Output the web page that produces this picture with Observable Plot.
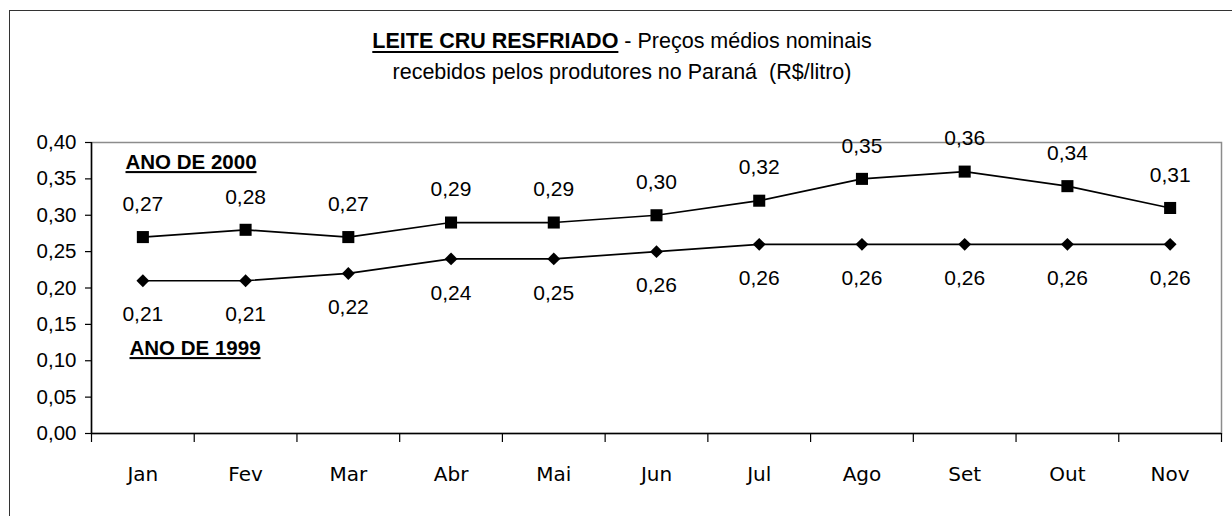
<!DOCTYPE html>
<html>
<head>
<meta charset="utf-8">
<script src="https://cdn.jsdelivr.net/npm/d3@7"></script>
<script src="https://cdn.jsdelivr.net/npm/@observablehq/plot@0.6"></script>
<style>
  html, body { margin: 0; padding: 0; background: #fff; }
  body { width: 1232px; height: 516px; position: relative; overflow: hidden; font-family: "Liberation Sans", Arial, sans-serif; }
  #border { position: absolute; z-index: 10; left: 9px; top: 10px; width: 1260px; height: 560px; border: 1.5px solid #333; box-sizing: border-box; pointer-events: none; }
  #title { position: relative; height: 120px; text-align: center; font-size: 21.5px; color: #000; }
  #title .l1 { position: absolute; left: 0; width: 1244px; top: 29px; }
  #title .l2 { position: absolute; left: 0; width: 1244px; top: 60px; }
  #title u { font-weight: bold; text-decoration-thickness: 2px; text-underline-offset: 3px; }
  #chart { position: relative; }
</style>
</head>
<body>
<div id="border"></div>
<div id="title">
  <div class="l1"><u>LEITE CRU RESFRIADO</u> - Preços médios nominais</div>
  <div class="l2">recebidos pelos produtores no Paraná&nbsp; (R$/litro)</div>
</div>
<div id="chart"></div>
<script>
const months = ["Jan", "Fev", "Mar", "Abr", "Mai", "Jun", "Jul", "Ago", "Set", "Out", "Nov"];
const values2000 = [0.27, 0.28, 0.27, 0.29, 0.29, 0.30, 0.32, 0.35, 0.36, 0.34, 0.31];
const labels2000 = ["0,27", "0,28", "0,27", "0,29", "0,29", "0,30", "0,32", "0,35", "0,36", "0,34", "0,31"];
const values1999 = [0.21, 0.21, 0.22, 0.24, 0.24, 0.25, 0.26, 0.26, 0.26, 0.26, 0.26];
const labels1999 = ["0,21", "0,21", "0,22", "0,24", "0,25", "0,26", "0,26", "0,26", "0,26", "0,26", "0,26"];
const yTicks = [0, 0.05, 0.10, 0.15, 0.20, 0.25, 0.30, 0.35, 0.40];
const seriesNames = ["ANO DE 2000", "ANO DE 1999"];

const d2000 = months.map((m, i) => ({i, m, v: values2000[i], label: labels2000[i]}));
const d1999 = months.map((m, i) => ({i, m, v: values1999[i], label: labels1999[i]}));
const boundaries = months.map((m, i) => i - 0.5).concat([months.length - 0.5]);
const fmt = d => d3.format(".2f")(d).replace(".", ",");

const chart = Plot.plot({
  width: 1232,
  height: 396,
  marginLeft: 91,
  marginRight: 11,
  marginTop: 22,
  marginBottom: 83,
  style: {background: "transparent", color: "#000", fontFamily: "Liberation Sans, Arial, sans-serif"},
  x: {type: "linear", domain: [-0.5, months.length - 0.5], axis: null},
  y: {domain: [0, 0.40], axis: null},
  marks: [
    Plot.frame({stroke: "#8c8c8c", strokeWidth: 1.5}),
    Plot.axisY({ticks: yTicks, tickFormat: fmt, tickSize: 6, tickPadding: 9, fontSize: 20.5, strokeWidth: 1.2, label: null}),
    Plot.axisX({ticks: boundaries, tickFormat: () => "", tickSize: 9, strokeWidth: 1.2, label: null}),
    Plot.axisX({ticks: months.map((m, i) => i), tickFormat: i => months[i], tickSize: 0, tickPadding: 33, label: null,
      fontSize: 20, fontFamily: "DejaVu Sans, sans-serif"}),
    Plot.ruleY([0], {stroke: "#000", strokeWidth: 1.5}),
    Plot.ruleX([-0.5], {stroke: "#000", strokeWidth: 1.5}),
    Plot.lineY(d2000, {x: "i", y: "v", stroke: "#000", strokeWidth: 1.7}),
    Plot.lineY(d1999, {x: "i", y: "v", stroke: "#000", strokeWidth: 1.7}),
    Plot.dot(d2000, {x: "i", y: "v", symbol: "square", r: 6.8, fill: "#000"}),
    Plot.dot(d1999, {x: "i", y: "v", symbol: "diamond2", r: 5.8, fill: "#000"}),
    Plot.text(d2000, {x: "i", y: "v", text: "label", dy: -33, fontSize: 21}),
    Plot.text(d1999, {x: "i", y: "v", text: "label", dy: 34, fontSize: 21}),
    Plot.text([seriesNames[0]], {frameAnchor: "top-left", dx: 34, dy: 12, textAnchor: "start", fontSize: 20.5, fontWeight: "bold", className: "ser"}),
    Plot.text([seriesNames[1]], {frameAnchor: "top-left", dx: 38, dy: 198, textAnchor: "start", fontSize: 20.5, fontWeight: "bold", className: "ser"})
  ]
});
d3.select(chart).selectAll(".ser text").style("text-decoration", "underline");
document.getElementById("chart").appendChild(chart);
</script>
</body>
</html>
